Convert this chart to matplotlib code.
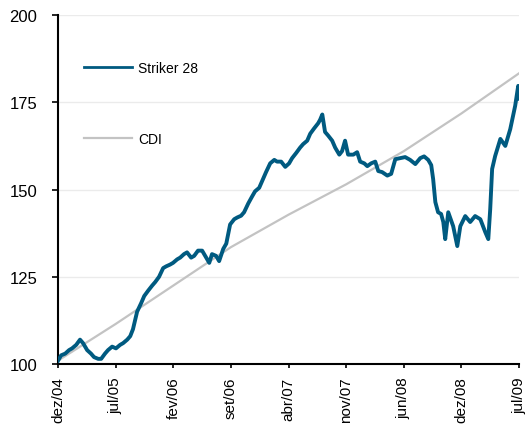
import matplotlib.pyplot as plt
from matplotlib.lines import Line2D

# days since the first date (ticks every 210 days)
tick_labels = ["dez/04", "jul/05", "fev/06", "set/06", "abr/07",
               "nov/07", "jun/08", "dez/08", "jul/09"]
tick_days = [210 * i for i in range(len(tick_labels))]

striker_days = [0, 11, 26, 40, 51, 66, 80, 91, 106, 120, 131, 146, 157, 171, 182, 197,
                211, 226, 237, 252, 263, 273, 288, 303, 314, 328, 343, 354, 368, 383, 394, 408,
                419, 434, 445, 459, 470, 485, 496, 510, 525, 536, 551, 561, 576, 587, 602, 613,
                627, 642, 653, 667, 678, 693, 707, 718, 733, 747, 758, 773, 788, 798, 813, 828,
                842, 853, 868, 882, 893, 908, 919, 933, 948, 955, 963, 973, 984, 999, 1010, 1025,
                1035, 1046, 1057, 1076, 1090, 1101, 1116, 1127, 1141, 1156, 1167, 1181, 1200, 1214,
                1229, 1247, 1265, 1283, 1302, 1320, 1334, 1349, 1360, 1367, 1375, 1385, 1396, 1404,
                1411, 1422, 1433, 1440, 1455, 1466, 1484, 1502, 1520, 1539, 1557, 1568, 1575, 1582,
                1593, 1612, 1630, 1648, 1666, 1677, 1680]
striker = [101, 102.5, 103, 104, 104.5, 105.5, 107, 106, 104, 103, 102, 101.5, 101.5, 103, 104, 105,
           104.5, 105.5, 106, 107, 108, 110, 115, 117.5, 119.5, 121, 122.5, 123.5, 125, 127.5, 128, 128.5,
           129, 130, 130.5, 131.5, 132, 130.5, 131, 132.5, 132.5, 131, 129, 131.5, 131, 129.5, 133, 134.5,
           140, 141.5, 142, 142.5, 143.5, 146, 148, 149.5, 150.5, 153, 155, 157.5, 158.5, 158, 158, 156.5,
           157.5, 159, 160.5, 162, 163, 164, 166, 167.5, 169, 170, 171.5, 166.5, 165.5, 164, 162, 160,
           161, 164, 160, 160, 160.7, 158, 157.5, 156.7, 157.5, 158, 155.3, 155, 154, 154.5,
           158.7, 159, 159.3, 158.5, 157.3, 159, 159.5, 158.5, 157, 153, 146.4, 143.5, 143, 140.7,
           135.8, 143.5, 141, 139.5, 133.8, 139.5, 142.4, 140.7, 142.4, 141.5, 137.8, 135.8, 144.4, 155.9,
           159.6, 164.5, 162.5, 167.3, 174, 179.7, 176]

cdi_days = tick_days
cdi = [101, 111.5, 122.5, 133.5, 142.8, 151.5, 161, 171.8, 183.3]

plt.rcParams['font.family'] = ['Liberation Sans', 'DejaVu Sans']

fig = plt.figure(figsize=(5.28, 4.27), dpi=100)
ax = fig.add_axes([0.11, 0.145, 0.873, 0.8175])

ax.plot(cdi_days, cdi, color="#c3c3c3", lw=1.6, zorder=2)
ax.plot(striker_days, striker, color="#005a80", lw=2.8, zorder=3)

ax.set_xlim(0, 1680)
ax.set_ylim(100, 200)
ax.set_yticks([100, 125, 150, 175, 200])
ax.set_xticks(tick_days)
ax.set_xticklabels(tick_labels, rotation=90, va="top", ha="center")

ax.grid(axis="y", color="#ebebeb", lw=1)
ax.set_axisbelow(True)
for s in ["top", "right"]:
    ax.spines[s].set_visible(False)
ax.spines["left"].set_linewidth(1.5)
ax.spines["bottom"].set_linewidth(1.5)
ax.tick_params(axis="y", length=4, width=1.2, pad=11, labelsize=12)
ax.tick_params(axis="x", length=3, width=1.2, pad=6, labelsize=11)

handles = [Line2D([], [], color="#005a80", lw=2),
           Line2D([], [], color="#c3c3c3", lw=1.6)]
ax.legend(handles, ["Striker 28", "CDI"], loc="upper left", bbox_to_anchor=(0.03, 0.905),
          frameon=False, handlelength=3.4, labelspacing=4.15, fontsize=10, handletextpad=0.45)

fig.savefig("out.png", dpi=100)
